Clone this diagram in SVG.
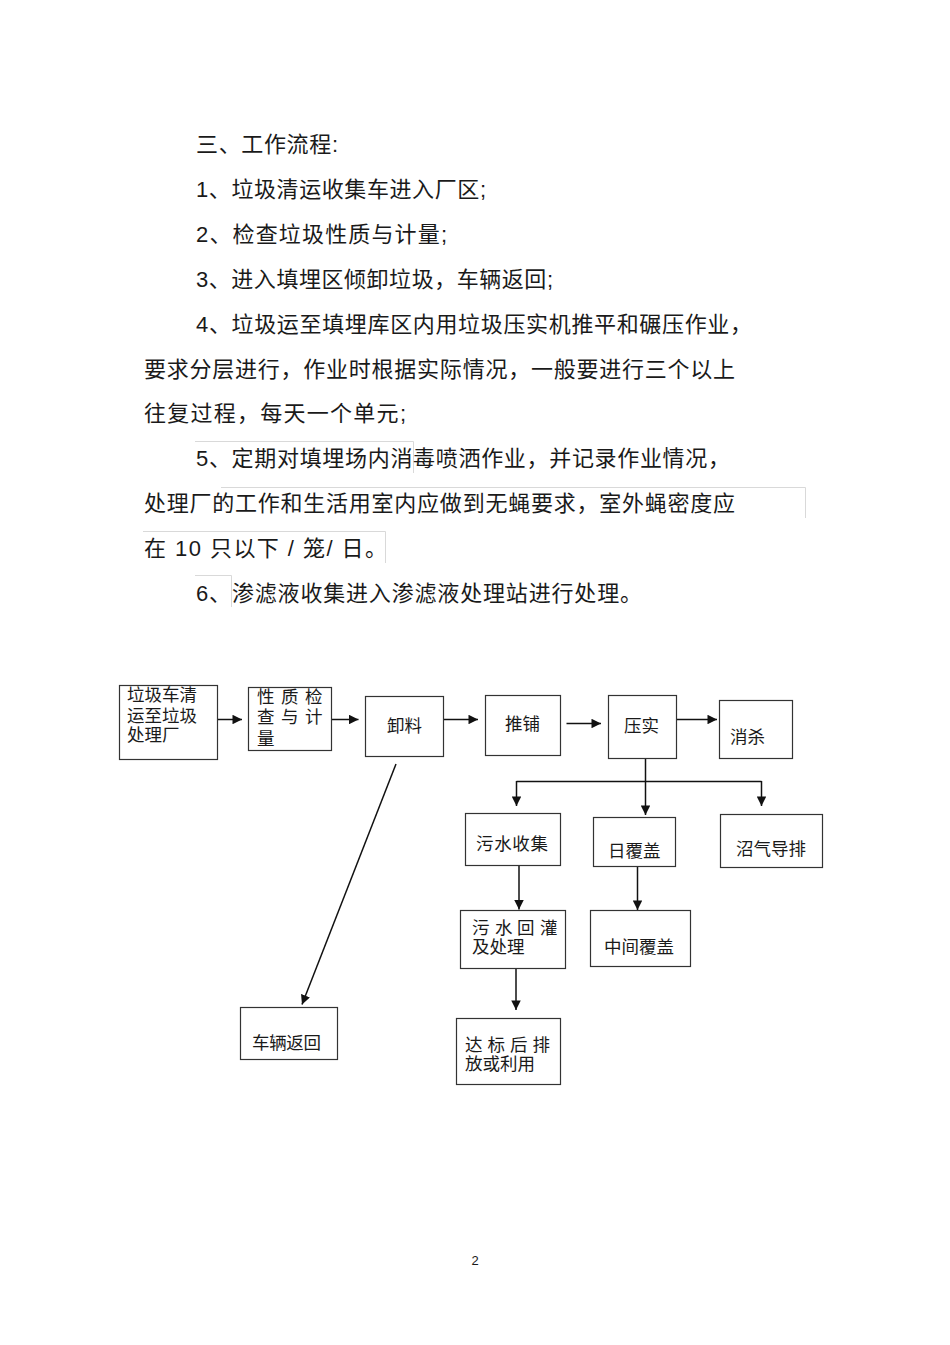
<svg xmlns="http://www.w3.org/2000/svg" width="950" height="1345" viewBox="0 0 950 1345">
<style>
  .bg { fill: #ffffff; }
  .box { fill: #ffffff; stroke: #333333; stroke-width: 1.2; }
  .conn { stroke: #111111; stroke-width: 1.5; fill: none; }
  .gl { stroke: #d9d9d9; stroke-width: 1; fill: none; }
  .t { font-family: "Liberation Sans", "Noto Sans CJK SC", sans-serif; font-size: 17.5px; fill: #1a1a1a; }
  .body { font-family: "Liberation Sans", "Noto Sans CJK SC", sans-serif; font-size: 22px; fill: #1a1a1a; }
  .pg { font-family: "Liberation Sans", sans-serif; font-size: 13px; fill: #1a1a1a; }
</style>
<defs>
  <marker id="ah" viewBox="0 0 10 10" refX="10" refY="5" markerWidth="10" markerHeight="9.5" markerUnits="userSpaceOnUse" orient="auto">
    <path d="M0,0 L10,5 L0,10 z" fill="#111111"/>
  </marker>
</defs>
<rect class="bg" x="0" y="0" width="950" height="1345"/>

<g id="page-text">
  <path class="gl" d="M195,441.5 H413.5 V473"/>
  <path class="gl" d="M221,487.5 H805.5 V518"/>
  <path class="gl" d="M143,531.5 H385.5 V563"/>
  <path class="gl" d="M195,575.5 H231.5 V607"/>
  <text class="body" x="196" y="152" textLength="142" lengthAdjust="spacing">三、工作流程:</text>
  <text class="body" x="196" y="196.5" textLength="290" lengthAdjust="spacing">1、垃圾清运收集车进入厂区;</text>
  <text class="body" x="196" y="241.5" textLength="251" lengthAdjust="spacing">2、检查垃圾性质与计量;</text>
  <text class="body" x="196" y="286.5" textLength="357" lengthAdjust="spacing">3、进入填埋区倾卸垃圾，车辆返回;</text>
  <text class="body" x="196" y="331.5" textLength="556" lengthAdjust="spacing">4、垃圾运至填埋库区内用垃圾压实机推平和碾压作业，</text>
  <text class="body" x="144" y="376.5" textLength="591" lengthAdjust="spacing">要求分层进行，作业时根据实际情况，一般要进行三个以上</text>
  <text class="body" x="144" y="420.5" textLength="262" lengthAdjust="spacing">往复过程，每天一个单元;</text>
  <text class="body" x="196" y="465.5" textLength="534" lengthAdjust="spacing">5、定期对填埋场内消毒喷洒作业，并记录作业情况，</text>
  <text class="body" x="144" y="510.5" textLength="591" lengthAdjust="spacing">处理厂的工作和生活用室内应做到无蝇要求，室外蝇密度应</text>
  <text class="body" x="144" y="555.5" textLength="243" lengthAdjust="spacing">在 10 只以下 / 笼/ 日。</text>
  <text class="body" x="196" y="600.5" textLength="446" lengthAdjust="spacing">6、渗滤液收集进入渗滤液处理站进行处理。</text>
</g>

<g id="connectors">
  <line class="conn" x1="215" y1="719.5" x2="242" y2="719.5" marker-end="url(#ah)"/>
  <line class="conn" x1="329" y1="719.5" x2="358.5" y2="719.5" marker-end="url(#ah)"/>
  <line class="conn" x1="443.5" y1="719.5" x2="478" y2="719.5" marker-end="url(#ah)"/>
  <line class="conn" x1="566.5" y1="723.5" x2="601" y2="723.5" marker-end="url(#ah)"/>
  <line class="conn" x1="673" y1="719.5" x2="717" y2="719.5" marker-end="url(#ah)"/>
  <line class="conn" x1="396" y1="764" x2="302" y2="1004.5" marker-end="url(#ah)"/>
  <line class="conn" x1="645.5" y1="758.5" x2="645.5" y2="815" marker-end="url(#ah)"/>
  <line class="conn" x1="516.5" y1="781.5" x2="761.5" y2="781.5"/>
  <line class="conn" x1="516.5" y1="781" x2="516.5" y2="806" marker-end="url(#ah)"/>
  <line class="conn" x1="761.5" y1="781" x2="761.5" y2="806" marker-end="url(#ah)"/>
  <line class="conn" x1="519" y1="865.5" x2="519" y2="909.5" marker-end="url(#ah)"/>
  <line class="conn" x1="637.5" y1="866.5" x2="637.5" y2="910" marker-end="url(#ah)"/>
  <line class="conn" x1="516" y1="968.5" x2="516" y2="1010" marker-end="url(#ah)"/>
</g>

<g id="n-collect">
  <rect class="box" x="119.5" y="685.5" width="98" height="74"/>
  <text class="t" x="127" y="700.5" textLength="70" lengthAdjust="spacing">垃圾车清</text>
  <text class="t" x="127" y="721.5" textLength="70" lengthAdjust="spacing">运至垃圾</text>
  <text class="t" x="127" y="741">处理厂</text>
</g>
<g id="n-inspect">
  <rect class="box" x="248.5" y="687.5" width="83" height="63"/>
  <text class="t" x="257 281 305" y="702.5">性质检</text>
  <text class="t" x="257 281 305" y="722.5">查与计</text>
  <text class="t" x="257" y="744.5">量</text>
</g>
<g id="n-unload">
  <rect class="box" x="365.5" y="696.5" width="78" height="60"/>
  <text class="t" x="387" y="731.5">卸料</text>
</g>
<g id="n-spread">
  <rect class="box" x="485.5" y="695.5" width="75" height="60"/>
  <text class="t" x="505" y="729.5">推铺</text>
</g>
<g id="n-compact">
  <rect class="box" x="608.5" y="695.5" width="68" height="63"/>
  <text class="t" x="624" y="731.5">压实</text>
</g>
<g id="n-disinfect">
  <rect class="box" x="719.5" y="700.5" width="73" height="58"/>
  <text class="t" x="730" y="742.5">消杀</text>
</g>
<g id="n-sewage">
  <rect class="box" x="465.5" y="813.5" width="95" height="52"/>
  <text class="t" x="476" y="849.5" textLength="72" lengthAdjust="spacing">污水收集</text>
</g>
<g id="n-daily">
  <rect class="box" x="593.5" y="817.5" width="82" height="49"/>
  <text class="t" x="608" y="856.5">日覆盖</text>
</g>
<g id="n-biogas">
  <rect class="box" x="720.5" y="814.5" width="102" height="53"/>
  <text class="t" x="736" y="854.5" textLength="70" lengthAdjust="spacing">沼气导排</text>
</g>
<g id="n-recirc">
  <rect class="box" x="460.5" y="910.5" width="105" height="58"/>
  <text class="t" x="472 495 517 540" y="933.5">污水回灌</text>
  <text class="t" x="472" y="953">及处理</text>
</g>
<g id="n-middle">
  <rect class="box" x="590.5" y="910.5" width="100" height="56"/>
  <text class="t" x="604" y="952.5" textLength="70" lengthAdjust="spacing">中间覆盖</text>
</g>
<g id="n-return">
  <rect class="box" x="240.5" y="1007.5" width="97" height="52"/>
  <text class="t" x="252" y="1048.5" textLength="69" lengthAdjust="spacing">车辆返回</text>
</g>
<g id="n-discharge">
  <rect class="box" x="456.5" y="1018.5" width="104" height="66"/>
  <text class="t" x="465 487.5 510 532.5" y="1050.5">达标后排</text>
  <text class="t" x="465" y="1069.5" textLength="70" lengthAdjust="spacing">放或利用</text>
</g>

<text class="pg" x="475" y="1264.5" text-anchor="middle">2</text>
</svg>
